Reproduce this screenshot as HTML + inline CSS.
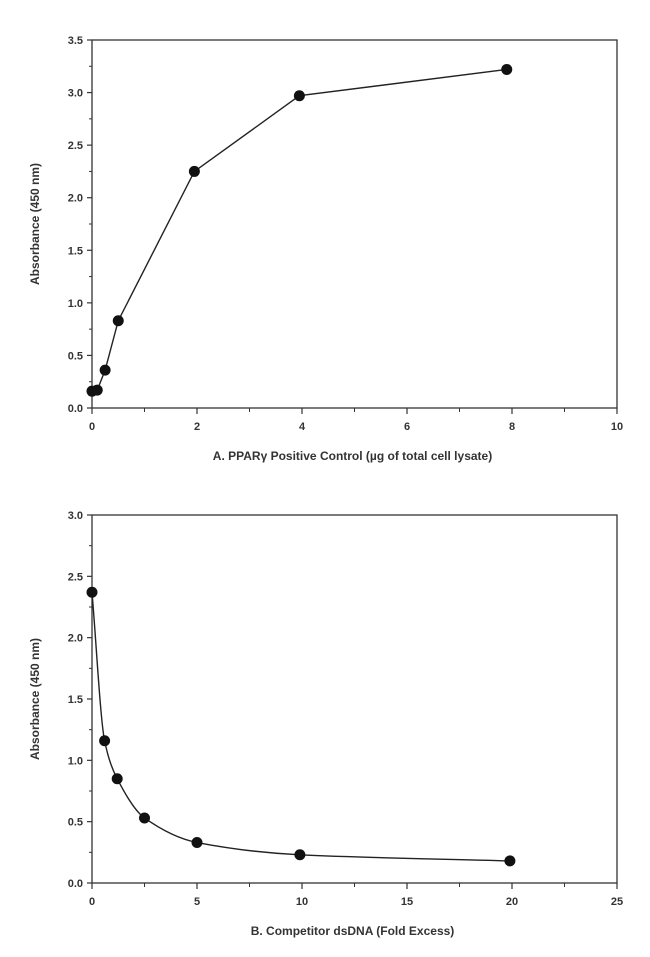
<!DOCTYPE html>
<html><head><meta charset="utf-8"><style>
html,body{margin:0;padding:0;background:#fff;}
svg{display:block;font-family:"Liberation Sans",Arial,sans-serif;}
text{fill:#333;font-weight:bold;}
</style></head><body>
<svg id="chart" width="650" height="957" viewBox="0 0 650 957"></svg>
<script>
const ns="http://www.w3.org/2000/svg";
const svg=document.getElementById("chart");
// Panel A data
const aX=[0,0.1,0.25,0.5,1.95,3.95,7.9];
const aY=[0.16,0.17,0.36,0.83,2.25,2.97,3.22];
const aXTicks=[0,2,4,6,8,10];
const aYTicks=[0,0.5,1,1.5,2,2.5,3,3.5];
// Panel B data
const bX=[0,0.6,1.2,2.5,5,9.9,19.9];
const bY=[2.37,1.16,0.85,0.53,0.33,0.23,0.18];
const bXTicks=[0,5,10,15,20,25];
const bYTicks=[0,0.5,1,1.5,2,2.5,3];

function el(t,a,p){const e=document.createElementNS(ns,t);for(const k in a)e.setAttribute(k,a[k]);(p||svg).appendChild(e);return e;}

function panel(cfg){
  const g=el("g",{});
  
  
  const L=92,R=617,T=cfg.top,B=cfg.bottom;
  const sx=v=>L+(v-cfg.xmin)/(cfg.xmax-cfg.xmin)*(R-L);
  const sy=v=>B-(v-cfg.ymin)/(cfg.ymax-cfg.ymin)*(B-T);
  const frame=el("rect",{x:L,y:T,width:R-L,height:B-T,fill:"none",stroke:"#333","stroke-width":1.3},g);
  
  
  // y ticks
  cfg.yTicks.forEach((v,i)=>{
    el("line",{x1:L-5,x2:L,y1:sy(v),y2:sy(v),stroke:"#333","stroke-width":1.2},g);
    if(i<cfg.yTicks.length-1){const m=(v+cfg.yTicks[i+1])/2;el("line",{x1:L-3,x2:L,y1:sy(m),y2:sy(m),stroke:"#333","stroke-width":1},g);}
    const t=el("text",{x:L-9,y:sy(v)+4,"text-anchor":"end","font-size":11},g);
    t.textContent=v.toFixed(1);
    
    
  });
  cfg.xTicks.forEach((v,i)=>{
    el("line",{x1:sx(v),x2:sx(v),y1:B,y2:B+6,stroke:"#333","stroke-width":1.2},g);
    if(i<cfg.xTicks.length-1){const m=(v+cfg.xTicks[i+1])/2;el("line",{x1:sx(m),x2:sx(m),y1:B,y2:B+4,stroke:"#333","stroke-width":1},g);}
    const t=el("text",{x:sx(v),y:B+22,"text-anchor":"middle","font-size":11},g);
    t.textContent=String(v);
    
    
  });
  const yt=el("text",{x:0,y:0,"text-anchor":"middle","font-size":12,transform:`translate(39,${(T+B)/2}) rotate(-90)`},g);
  yt.textContent="Absorbance (450 nm)";
  
  
  const xt=el("text",{x:(L+R)/2-2,y:B+52,"text-anchor":"middle","font-size":12},g);
  xt.textContent=cfg.xTitle;
  
  
  // line
  const px=cfg.xs.map(sx),py=cfg.ys.map(sy);
  let d="";
  if(!cfg.smooth){d=px.map((x,i)=>(i?"L":"M")+x+","+py[i]).join("");}
  else{
    const n=px.length,m=[];const dl=[];
    for(let i=0;i<n-1;i++)dl.push((py[i+1]-py[i])/(px[i+1]-px[i]));
    m[0]=dl[0];m[n-1]=dl[n-2];
    for(let i=1;i<n-1;i++){m[i]=dl[i-1]*dl[i]<=0?0:2/(1/dl[i-1]+1/dl[i]);}
    d="M"+px[0]+","+py[0];
    for(let i=0;i<n-1;i++){const h=(px[i+1]-px[i])/3;d+=`C${px[i]+h},${py[i]+m[i]*h} ${px[i+1]-h},${py[i+1]-m[i+1]*h} ${px[i+1]},${py[i+1]}`;}
  }
  const ln=el("path",{d:d,fill:"none",stroke:"#222","stroke-width":1.4},g);
  
  
  px.forEach((x,i)=>{
    const c=el("circle",{cx:x,cy:py[i],r:5.5,fill:"#111"},g);
    
    
  });
}
panel({name:"panel-a-chart",top:40,bottom:408,xmin:0,xmax:10,ymin:0,ymax:3.5,xTicks:aXTicks,yTicks:aYTicks,xs:aX,ys:aY,smooth:false,xTitle:"A. PPARγ Positive Control (µg of total cell lysate)"});
panel({name:"panel-b-chart",top:515,bottom:883,xmin:0,xmax:25,ymin:0,ymax:3,xTicks:bXTicks,yTicks:bYTicks,xs:bX,ys:bY,smooth:true,xTitle:"B. Competitor dsDNA (Fold Excess)"});
</script>
</body></html>
